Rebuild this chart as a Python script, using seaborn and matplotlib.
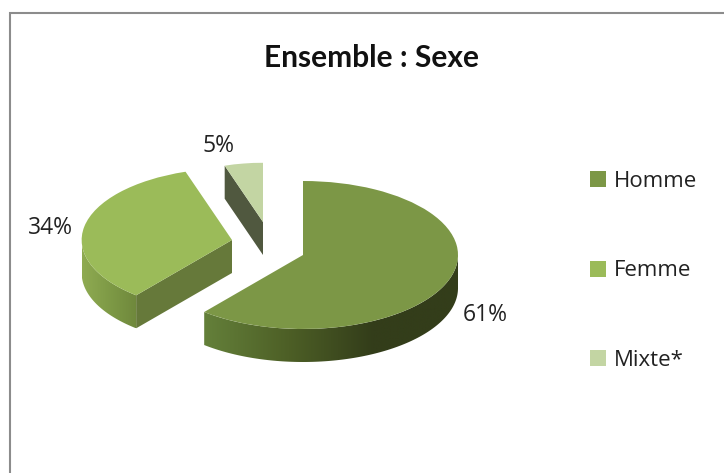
import numpy as np
import matplotlib
matplotlib.use("Agg")
import matplotlib.pyplot as plt
from matplotlib.patches import Polygon, Rectangle
import seaborn as sns

# Data
labels = ["Homme", "Femme", "Mixte*"]
values = [61, 34, 5]
colors = ["#7c9746", "#9bbb59", "#c3d5a3"]
title = "Ensemble : Sexe"

# Layout, in pixels of the 724x473 picture
W, H = 724, 473
RX, RY = 155, 74
DEPTH = 33
centers = [(303, 255), (232, 240), (263, 222)]
radii = [1.0, 0.97, 0.8]
label_pos = [(485, 315), (50, 228), (219, 146)]

# Colour of the rim from left to right, and of the cut face
rim_colors = [["#64803a", "#4d5f26", "#333d1a", "#333d1a"],
              ["#8fab52", "#7e9a46", "#6f883c"],
              ["#50583f", "#50583f"]]
cut_colors = [None, "#66793a", "#50583f"]

sns.set_theme(style="white")
plt.rcParams["font.family"] = ["Open Sans", "DejaVu Sans"]

fig = plt.figure(figsize=(W / 100, H / 100), dpi=100)
ax = fig.add_axes([0, 0, 1, 1])


def px(x, y):
    # picture pixels to pie units
    return (x - 303) / RX, (255 - y) / RY


wedges, _ = ax.pie(values, colors=colors, startangle=90, counterclock=False,
                   wedgeprops={"linewidth": 0})
depth = DEPTH / RY

for i, w in enumerate(wedges):
    c = px(*centers[i])
    w.set_center(c)
    w.set_radius(radii[i])
    w.set_zorder(5)

    # outer rim, only the part of the arc that faces the viewer
    a = np.radians(np.linspace(w.theta1, w.theta2, 200))
    a = a[np.sin(a) < 0]
    if len(a) > 1:
        x = c[0] + radii[i] * np.cos(a)
        y = c[1] + radii[i] * np.sin(a)
        xy = np.r_[np.c_[x, y], np.c_[x, y - depth][::-1]]
        cmap = sns.blend_palette(rim_colors[i], as_cmap=True)
        im = ax.imshow(np.linspace(0, 1, 256)[None, :], cmap=cmap, aspect="auto",
                       extent=(x.min(), x.max(), (y - depth).min(), y.max()), zorder=3)
        im.set_clip_path(Polygon(xy, transform=ax.transData))

    # flat cut face, on the edge that looks down towards the viewer
    if cut_colors[i]:
        t = np.radians(w.theta2)
        ex = c[0] + radii[i] * np.cos(t)
        ey = c[1] + radii[i] * np.sin(t)
        ax.add_patch(Polygon([c, (ex, ey), (ex, ey - depth), (c[0], c[1] - depth)],
                             closed=True, fc=cut_colors[i], ec="none", zorder=4))

ax.set_aspect("auto")
ax.set_xlim(px(0, 0)[0], px(W, 0)[0])
ax.set_ylim(px(0, H)[1], px(0, 0)[1])
ax.axis("off")

fig.add_artist(Rectangle((9.5 / W, -0.02), 1.02, 1 - 13 / H + 0.02,
                         transform=fig.transFigure, fc="none", ec="#8c8c8c", lw=1.5))

fig.text(372 / W, 1 - 58 / H, title, fontsize=21.5, fontweight="bold",
         ha="center", va="center", color="#111111", family="Lato")

for v, (x, y) in zip(values, label_pos):
    fig.text(x / W, 1 - y / H, f"{v}%", fontsize=16.5, ha="center", va="center", color="#222222")

ax.legend(wedges, labels, loc="center left", bbox_to_anchor=(570 / W, 1 - 271 / H),
          bbox_transform=fig.transFigure, frameon=False, fontsize=16, labelspacing=3.09,
          handlelength=0.72, handleheight=0.72, handletextpad=0.36, labelcolor="#222222")

fig.savefig("out.png", dpi=100)
